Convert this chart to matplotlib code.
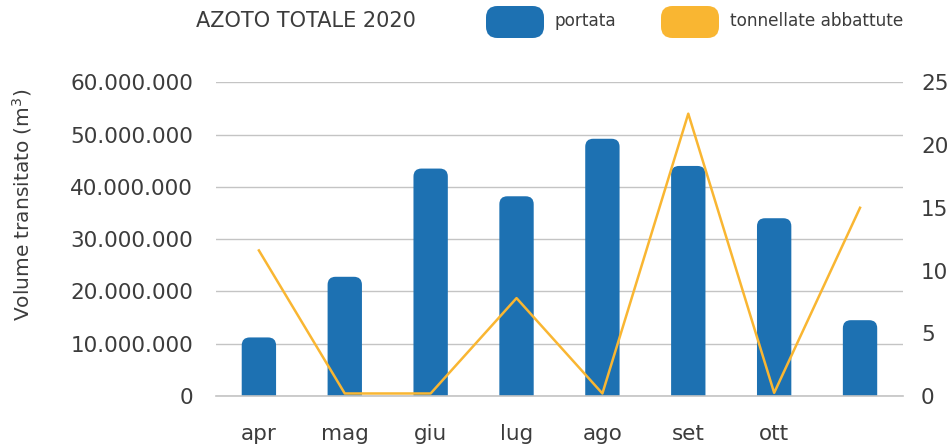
import matplotlib
matplotlib.use("Agg")
import matplotlib.pyplot as plt
from matplotlib.patches import FancyBboxPatch
from matplotlib.ticker import FuncFormatter

# data
mesi = ['apr', 'mag', 'giu', 'lug', 'ago', 'set', 'ott', '']
portata = [11.2e6, 22.8e6, 43.5e6, 38.2e6, 49.2e6, 44.0e6, 34.0e6, 14.5e6]
tonnellate = [11.6, 0.2, 0.2, 7.8, 0.2, 22.5, 0.25, 15.0]

blu = '#1d71b2'
giallo = '#f9b632'
testo = '#3c3c3c'

plt.rcParams['font.family'] = ['DejaVu Sans']

fig = plt.figure(figsize=(9.48, 4.48), dpi=100)
ax = fig.add_axes([0.2278, 0.1161, 0.7247, 0.7002])
ax2 = ax.twinx()

x = list(range(len(mesi)))
bars = ax.bar(x, portata, width=0.4, color=blu, zorder=2)

ax.set_xlim(-0.5, 7.5)
ax.set_ylim(0, 60e6)
ax2.set_ylim(0, 25)

# rounded tops: replace each rectangle with a rounded box of the same extent
fig.canvas.draw()
px_x = ax.transData.transform((1, 0))[0] - ax.transData.transform((0, 0))[0]
px_y = ax.transData.transform((0, 1e6))[1] - ax.transData.transform((0, 0))[1]
aspect = (1e6 / px_y) / (1 / px_x)
r = 8 / px_x
for b in bars:
    b.set_visible(False)
    p = FancyBboxPatch((b.get_x(), -3e6), b.get_width(), b.get_height() + 3e6,
                       boxstyle='round,pad=0,rounding_size=%f' % r,
                       mutation_aspect=aspect, facecolor=blu, edgecolor='none',
                       zorder=2)
    ax.add_patch(p)
ax.axhline(0, color='#c4c4c4', linewidth=1.2, zorder=2.5, clip_on=False)

ax2.plot(x, tonnellate, color=giallo, linewidth=1.8, zorder=3)

ax.set_yticks([i * 10e6 for i in range(7)])
ax.yaxis.set_major_formatter(FuncFormatter(lambda v, p: f"{int(v):,}".replace(",", ".")))
ax2.set_yticks([0, 5, 10, 15, 20, 25])
ax.set_xticks(x)
ax.set_xticklabels(mesi)

ax.grid(axis='y', color='#c4c4c4', linewidth=1, zorder=0)
ax.set_axisbelow(True)
for a in (ax, ax2):
    for s in a.spines.values():
        s.set_visible(False)
    a.tick_params(length=0, labelsize=15.5, colors=testo)
ax.tick_params(axis='y', pad=16.5)
ax2.tick_params(axis='y', pad=13)
ax.tick_params(axis='x', pad=20)

fig.text(0.023, 0.542, 'Volume transitato (m$^3$)', rotation=90, ha='center',
         va='center', fontsize=14.5, color=testo)

fig.text(0.323, 0.953, 'AZOTO TOTALE 2020', ha='center', va='center',
         fontsize=15, color=testo)

# legend
fig.patches.append(FancyBboxPatch((486 / 948, 1 - 38 / 448), 58 / 948, 32 / 448,
                                  boxstyle='round,pad=0,rounding_size=0.012',
                                  mutation_aspect=948 / 448,
                                  transform=fig.transFigure, facecolor=blu,
                                  edgecolor='none'))
fig.text(554 / 948, 0.953, 'portata', ha='left', va='center', fontsize=12.2, color=testo)
fig.patches.append(FancyBboxPatch((661 / 948, 1 - 38 / 448), 58 / 948, 32 / 448,
                                  boxstyle='round,pad=0,rounding_size=0.012',
                                  mutation_aspect=948 / 448,
                                  transform=fig.transFigure, facecolor=giallo,
                                  edgecolor='none'))
fig.text(730 / 948, 0.953, 'tonnellate abbattute', ha='left', va='center',
         fontsize=12.2, color=testo)

fig.savefig('out.png', dpi=100)
